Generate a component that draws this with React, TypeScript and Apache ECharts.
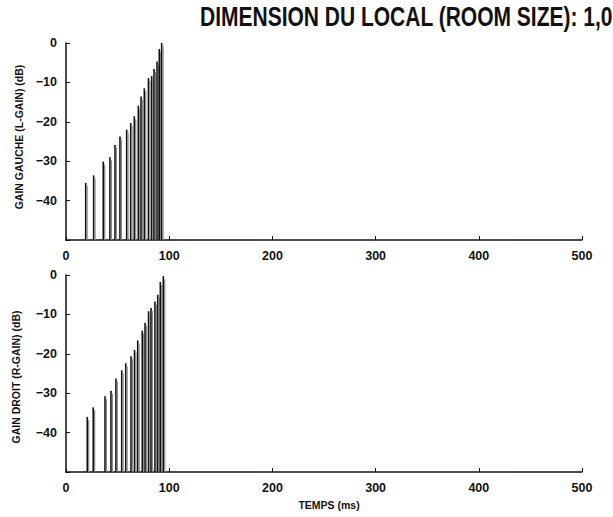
import React, { useEffect, useRef } from "react";
import * as echarts from "echarts";

const titleText = "DIMENSION DU LOCAL (ROOM SIZE): 1,0";
const leftAxisName = "GAIN GAUCHE (L-GAIN) (dB)";
const rightAxisName = "GAIN DROIT (R-GAIN) (dB)";
const xAxisName = "TEMPS (ms)";

// Left channel reflections: time (ms) and gain (dB)
const leftTimes = [19.1, 26.8, 36.1, 42.6, 47.5, 52.3, 58.8, 62.7, 66.2, 70.1, 72.7, 75.9, 79.9, 83.0, 85.3, 88.2, 90.4, 92.7];
const leftGains = [-35.5, -33.6, -30.1, -29, -25.9, -23.7, -22, -20.3, -18.6, -15.9, -13.6, -11.5, -8.9, -8.4, -6.6, -4.7, -1.5, 0];

// Right channel reflections
const rightTimes = [20.6, 26.4, 37.8, 43.6, 48.4, 54.0, 57.9, 63.0, 66.4, 69.5, 73.9, 76.6, 80.0, 82.4, 86.2, 88.9, 91.4, 94.3];
const rightGains = [-36, -33.6, -30.8, -29.4, -26.3, -24.2, -22.4, -20.6, -19, -16.6, -14.1, -12.1, -9.2, -8.4, -6.7, -5, -1.8, -0.3];

const yTicks = [-50, -40, -30, -20, -10, 0];
const xTicks = [0, 100, 200, 300, 400, 500];

const FONT = '"Liberation Sans", Arial, Helvetica, sans-serif';

export default function App() {
  const ref = useRef<HTMLDivElement>(null);

  useEffect(() => {
    if (!ref.current) return;
    const chart = echarts.init(ref.current, null, { renderer: "svg" });

    const yMin = yTicks[0];
    const yMax = yTicks[yTicks.length - 1];

    const spikeRender = (params: any, api: any) => {
      const x = api.value(0);
      const y = api.value(1);
      const top = api.coord([x, y]);
      const base = api.coord([x, yMin]);
      return {
        type: "group",
        children: [
          {
            type: "line",
            shape: { x1: top[0], y1: top[1], x2: base[0], y2: base[1] },
            style: { stroke: "#111", lineWidth: 1.6 },
          },
          {
            type: "line",
            shape: { x1: top[0] + 1.4, y1: top[1] + 3, x2: base[0] + 1.4, y2: base[1] },
            style: { stroke: "#888", lineWidth: 1.2 },
          },
        ],
      };
    };

    const makeX = (gridIndex: number) => ({
      type: "value",
      gridIndex,
      min: xTicks[0],
      max: xTicks[xTicks.length - 1],
      interval: 100,
      axisLine: { show: true, onZero: false, lineStyle: { color: "#111", width: 1.5 } },
      axisTick: { show: true, inside: true, length: 4, lineStyle: { color: "#111" } },
      axisLabel: {
        color: "#111",
        fontFamily: FONT,
        fontWeight: "bold",
        fontSize: 12.5,
        margin: 9,
      },
      splitLine: { show: false },
    });

    const makeY = (gridIndex: number) => ({
      type: "value",
      gridIndex,
      min: yMin,
      max: yMax,
      interval: 10,
      axisLine: { show: true, onZero: false, lineStyle: { color: "#111", width: 1.5 } },
      axisTick: { show: true, inside: true, length: 4, lineStyle: { color: "#111" } },
      axisLabel: {
        color: "#111",
        fontFamily: FONT,
        fontWeight: "bold",
        fontSize: 12.5,
        margin: 9,
        formatter: (v: number) => (v === yMin ? "" : v === 0 ? "0" : "\u2212" + Math.abs(v)),
      },
      splitLine: { show: false },
    });

    chart.setOption({
      animation: false,
      backgroundColor: "#fff",
      grid: [
        { left: 66, top: 43, width: 516, height: 197 },
        { left: 66, top: 275, width: 516, height: 197 },
      ],
      xAxis: [makeX(0), makeX(1)],
      yAxis: [makeY(0), makeY(1)],
      series: [
        {
          type: "custom",
          xAxisIndex: 0,
          yAxisIndex: 0,
          renderItem: spikeRender,
          data: leftTimes.map((t, i) => [t, leftGains[i]]),
        },
        {
          type: "custom",
          xAxisIndex: 1,
          yAxisIndex: 1,
          renderItem: spikeRender,
          data: rightTimes.map((t, i) => [t, rightGains[i]]),
        },
      ],
      graphic: [
        {
          type: "text",
          x: 200,
          y: 3,
          scaleY: 1.3,
          style: {
            text: titleText,
            font: `bold 21px ${FONT}`,
            fill: "#111",
            textAlign: "left",
            textVerticalAlign: "top",
          },
        },
        {
          type: "text",
          x: 19,
          y: 137,
          rotation: Math.PI / 2,
          style: {
            text: leftAxisName,
            font: `bold 10.5px ${FONT}`,
            fill: "#111",
            textAlign: "center",
            textVerticalAlign: "middle",
          },
        },
        {
          type: "text",
          x: 16,
          y: 377,
          rotation: Math.PI / 2,
          style: {
            text: rightAxisName,
            font: `bold 10.5px ${FONT}`,
            fill: "#111",
            textAlign: "center",
            textVerticalAlign: "middle",
          },
        },
        {
          type: "text",
          x: 329,
          y: 505,
          style: {
            text: xAxisName,
            font: `bold 10.5px ${FONT}`,
            fill: "#111",
            textAlign: "center",
            textVerticalAlign: "middle",
          },
        },
      ],
    });

    return () => chart.dispose();
  }, []);

  return <div ref={ref} style={{ width: 613, height: 517, position: "absolute", left: 0, top: 0 }} />;
}
